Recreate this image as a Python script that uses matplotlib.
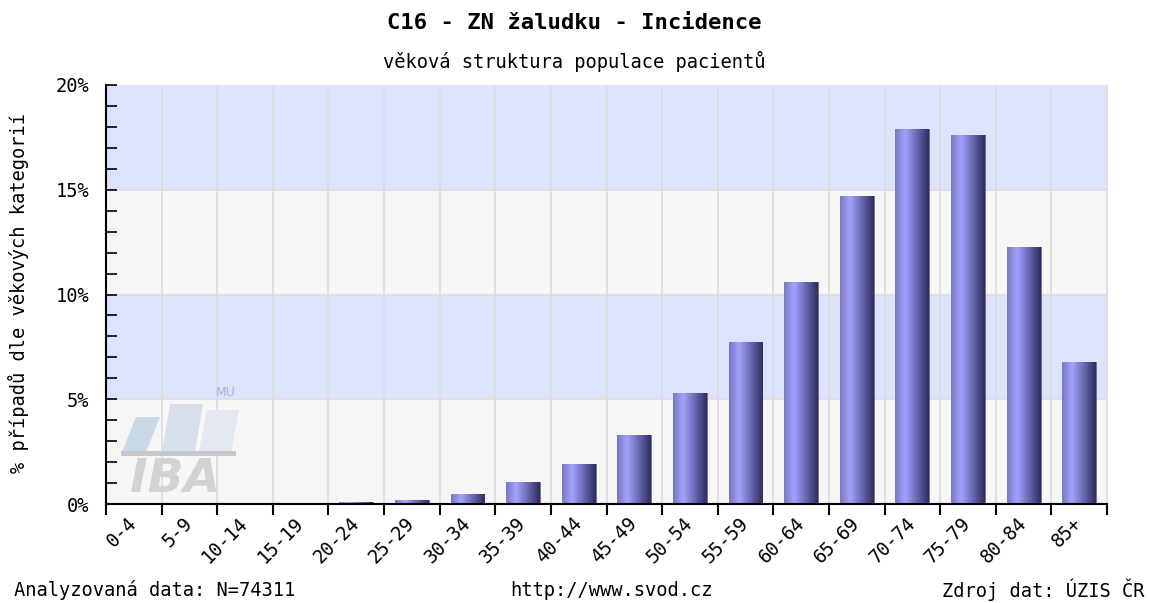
import numpy as np
import matplotlib
matplotlib.use('Agg')
import matplotlib.pyplot as plt
from matplotlib.colors import LinearSegmentedColormap
from matplotlib.ticker import FixedLocator, MultipleLocator, FuncFormatter
from matplotlib.patches import Polygon

# === Data ===
age_groups = ['0-4', '5-9', '10-14', '15-19', '20-24', '25-29', '30-34', '35-39',
              '40-44', '45-49', '50-54', '55-59', '60-64', '65-69', '70-74',
              '75-79', '80-84', '85+']
share_pct = [0.0, 0.0, 0.0, 0.0, 0.11, 0.21, 0.49, 1.07, 1.93, 3.27,
             5.28, 7.75, 10.61, 14.72, 17.89, 17.61, 12.25, 6.79]

title = 'C16 - ZN žaludku - Incidence'
subtitle = 'věková struktura populace pacientů'
ylabel = '% případů dle věkových kategorií'
foot_left = 'Analyzovaná data: N=74311'
foot_mid = 'http://www.svod.cz'
foot_right = 'Zdroj dat: ÚZIS ČR'

# === Style ===
FONT = ['DejaVu Sans Mono', 'Liberation Mono']
BAND_BLUE = '#dde3fd'
BAND_GREY = '#f6f6f6'
GRID = '#dcdcdc'
TXT = 13.5
bar_cmap = LinearSegmentedColormap.from_list(
    'bar', [(0.0, '#7878c0'), (0.3, '#a3a3ff'), (1.0, '#2c2c5e')])

plt.rcParams['font.family'] = FONT

fig = plt.figure(figsize=(11.49, 6.03), dpi=100, facecolor='white')
ax = fig.add_axes([106 / 1149, 1 - 504 / 603, 1001 / 1149, 419 / 603])

n = len(age_groups)
x = np.arange(n)

# background bands
for lo in range(0, 20, 5):
    ax.axhspan(lo, lo + 5, color=BAND_BLUE if (lo // 5) % 2 else BAND_GREY,
               zorder=0, lw=0)

# grid
for b in np.arange(0.5, n - 0.5, 1):
    ax.axvline(b, color=GRID, lw=1.2, zorder=1)
for h in (5, 10, 15):
    ax.axhline(h, color=GRID, lw=1.2, zorder=1)

# bars with horizontal gradient
bars = ax.bar(x, share_pct, width=0.61, color='#8888dd',
              edgecolor='#3a3a6a', linewidth=0.4, zorder=3)
grad = np.linspace(0, 1, 256).reshape(1, -1)
for bar in bars:
    if bar.get_height() <= 0:
        continue
    bx, by = bar.get_x(), bar.get_y()
    im = ax.imshow(grad, cmap=bar_cmap, aspect='auto', zorder=3.5,
                   extent=(bx, bx + bar.get_width(), by, by + bar.get_height()),
                   interpolation='bilinear')
    im.set_clip_path(bar)
ax.set_xlim(-0.5, n - 0.5)
ax.set_ylim(0, 20)

# spines
ax.spines['top'].set_visible(False)
ax.spines['right'].set_color(GRID)
ax.spines['right'].set_linewidth(1.2)
ax.spines['left'].set_linewidth(1.5)
ax.spines['bottom'].set_linewidth(1.5)
ax.spines['left'].set_zorder(5)
ax.spines['bottom'].set_zorder(5)

# x ticks: marks at boundaries, labels at centers
ax.xaxis.set_major_locator(FixedLocator(x))
ax.xaxis.set_minor_locator(FixedLocator(np.arange(-0.5, n, 1)))
ax.set_xticklabels(age_groups, rotation=45, ha='right', va='center',
                   rotation_mode='anchor', fontsize=TXT)
ax.tick_params(axis='x', which='major', length=0, pad=12)
ax.tick_params(axis='x', which='minor', length=8, width=1.5, direction='out')

# y ticks
ax.yaxis.set_major_locator(MultipleLocator(5))
ax.yaxis.set_minor_locator(MultipleLocator(1))
ax.yaxis.set_major_formatter(FuncFormatter(lambda v, p: f'{v:.0f}%'))
ax.tick_params(axis='y', which='both', length=8, width=1.2, direction='in',
               labelsize=TXT, pad=12)

# watermark (IBA / MU logo)
for pts, c in [
    ([(122, 452), (136, 417), (160, 417), (146, 452)], '#c9d8e6'),
    ([(162, 452), (170, 404), (203, 404), (195, 452)], '#d6dfea'),
    ([(199, 452), (207, 410), (239, 410), (231, 452)], '#e3e7ef'),
]:
    fig.add_artist(Polygon([(px / 1149, 1 - py / 603) for px, py in pts],
                           closed=True, transform=fig.transFigure,
                           facecolor=c, edgecolor='none', zorder=2))
fig.add_artist(Polygon([(121 / 1149, 1 - 451 / 603), (236 / 1149, 1 - 451 / 603),
                        (236 / 1149, 1 - 456 / 603), (121 / 1149, 1 - 456 / 603)],
                       closed=True, transform=fig.transFigure,
                       facecolor='#c8c8c8', edgecolor='none', zorder=2))
fig.text(175 / 1149, 1 - 480 / 603, 'IBA', ha='center', va='center',
         fontsize=34, fontweight='bold', fontstyle='italic',
         family='DejaVu Sans', color='#d2d2d2', zorder=2)
fig.text(226 / 1149, 1 - 393 / 603, 'MU', ha='center', va='center',
         fontsize=9, family='DejaVu Sans', color='#aab4cc', zorder=2)

# titles and labels
fig.text(0.5, 1 - 23 / 603, title, ha='center', va='center',
         fontsize=16, fontweight='bold')
fig.text(0.5, 1 - 62 / 603, subtitle, ha='center', va='center', fontsize=TXT)
fig.text(19 / 1149, 1 - 293 / 603, ylabel, ha='center', va='center',
         rotation=90, fontsize=TXT)

fig.text(14 / 1149, 1 - 590 / 603, foot_left, ha='left', va='center', fontsize=TXT)
fig.text(612 / 1149, 1 - 590 / 603, foot_mid, ha='center', va='center', fontsize=TXT)
fig.text(1145 / 1149, 1 - 590 / 603, foot_right, ha='right', va='center', fontsize=TXT)

fig.savefig('out.png', dpi=100, facecolor='white')
